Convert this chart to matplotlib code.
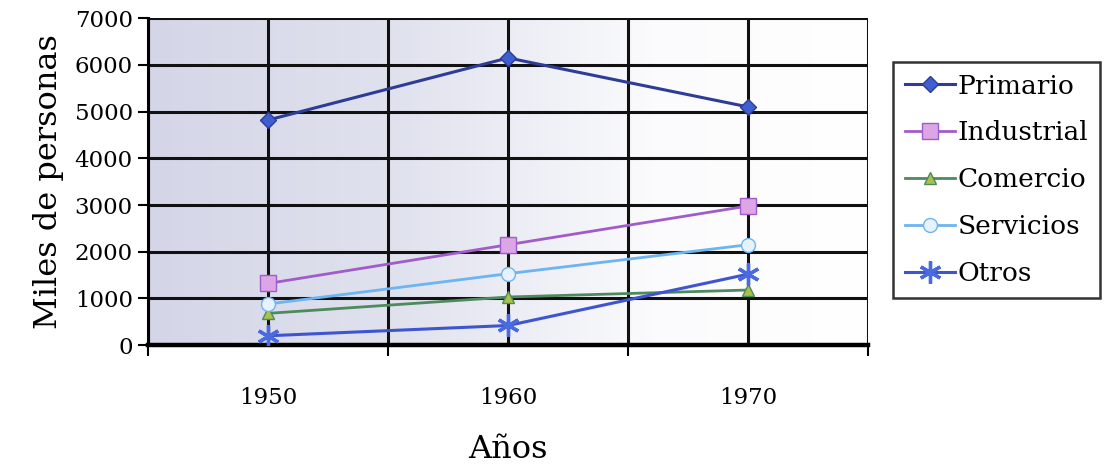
import numpy as np
import matplotlib.pyplot as plt
from matplotlib.colors import LinearSegmentedColormap

# Población activa por sector (miles de personas)
anios = ["1950", "1960", "1970"]
primario = [4820, 6150, 5100]
industrial = [1320, 2150, 2980]
comercio = [680, 1030, 1180]
servicios = [880, 1530, 2150]
otros = [200, 420, 1520]

plt.rcParams['font.family'] = ['DejaVu Serif']

fig = plt.figure(figsize=(11.08, 4.67), dpi=100)
ax = fig.add_axes([0.1336, 0.261, 0.650, 0.700])

x = np.arange(len(anios))
ax.set_xlim(-0.5, 2.5)
ax.set_ylim(0, 7000)

# fondo degradado (gris azulado a blanco)
cmap = LinearSegmentedColormap.from_list(
    "fondo", [(0, "#d4d6e8"), (0.35, "#e0e2ee"), (0.7, "#fbfbfd"), (1, "#ffffff")])
grad = np.linspace(0, 1, 256).reshape(1, -1)
ax.imshow(grad, cmap=cmap, extent=[-0.5, 2.5, 0, 7000], aspect="auto", zorder=0)

# rejilla
for gx in np.arange(-0.5, 2.51, 0.5):
    ax.axvline(gx, color="#111111", lw=2.2, zorder=1)
for gy in range(0, 7001, 1000):
    ax.axhline(gy, color="#111111", lw=2.2, zorder=1)

ax.plot(x, primario, color="#2e3c96", lw=2.2, marker="D", ms=8,
        mfc="#3f5fd0", mec="#2e3c96", label="Primario", zorder=3)
ax.plot(x, industrial, color="#a05cc8", lw=2, marker="s", ms=11,
        mfc="#dca6e6", mec="#a05cc8", label="Industrial", zorder=3)
ax.plot(x, comercio, color="#4f8a5e", lw=2, marker="^", ms=9,
        mfc="#a8c24a", mec="#4f8a5e", label="Comercio", zorder=3)
ax.plot(x, servicios, color="#6cb4f2", lw=2, marker="o", ms=10,
        mfc="#e8f2fc", mec="#6cb4f2", label="Servicios", zorder=3)
ax.plot(x, otros, color="#3f55d0", lw=2.2, marker=(6, 2, 0), ms=16,
        mec="#4a6ae0", mew=2.4, label="Otros", zorder=3)

for s in ["top", "right"]:
    ax.spines[s].set_visible(False)
ax.spines["left"].set_linewidth(2.2)
ax.spines["bottom"].set_linewidth(3.2)

ax.set_yticks(range(0, 7001, 1000))
ax.tick_params(axis="y", labelsize=16.5, length=7, width=1.5, pad=4)
ax.set_xticks([-0.5, 0.5, 1.5, 2.5])
ax.set_xticklabels([])
ax.set_xticks(x, minor=True)
ax.set_xticklabels(anios, minor=True)
ax.tick_params(axis="x", which="major", length=8, width=1.5)
ax.tick_params(axis="x", which="minor", length=0, labelsize=16.5, pad=30)

ax.set_ylabel("Miles de personas", fontsize=23, labelpad=8)
ax.set_xlabel("Años", fontsize=23, labelpad=18)

leg = fig.legend(loc="upper left", bbox_to_anchor=(0.806, 0.868), fontsize=19,
                 frameon=True, fancybox=False, edgecolor="black",
                 handlelength=1.9, handletextpad=0.1, labelspacing=0.83,
                 borderpad=0.45, borderaxespad=0)
leg.get_frame().set_linewidth(1.8)

fig.savefig("out.png", dpi=100)
